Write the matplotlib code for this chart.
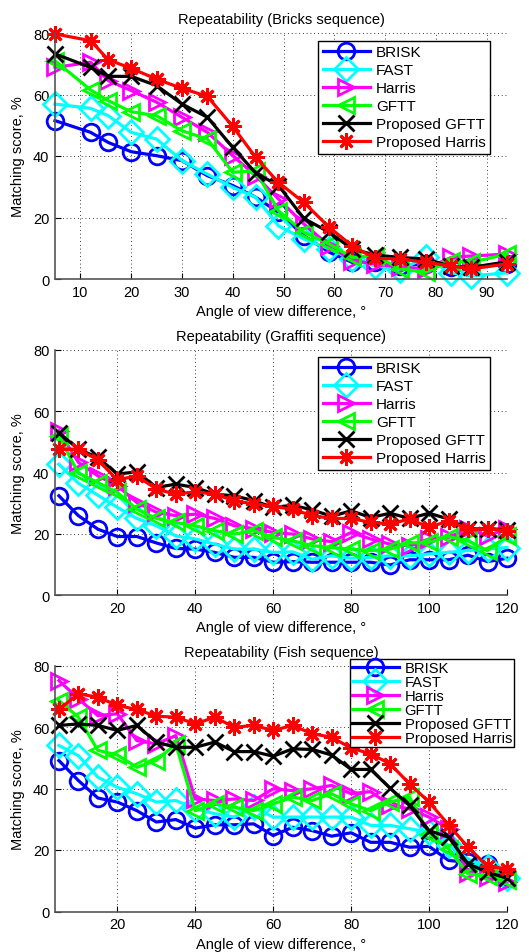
import matplotlib
matplotlib.use('Agg')
import matplotlib.pyplot as plt

plt.rcParams['font.family'] = ['Liberation Sans', 'DejaVu Sans']
plt.rcParams['font.size'] = 10.5

names = ['BRISK', 'FAST', 'Harris', 'GFTT', 'Proposed GFTT', 'Proposed Harris']
colors = ['#0000ff', '#00ffff', '#ff00ff', '#00ff00', '#000000', '#ff0000']
markers = ['o', 'D', '>', '<', 'x', (8, 2, 0)]

# Bricks sequence (irregular angles)
bricks_x = [5, 12, 15.5, 20, 25, 30, 35, 40, 44.5, 49, 54, 59, 63.5, 68, 73, 78, 83, 87, 94]
bricks = [
    [51.5, 47.7, 44.4, 41.4, 40.1, 38.5, 33.6, 30.4, 26.6, 21.7, 14.1, 8.7, 5.4, 5.4, 4.3, 4.9, 3.8, 3.8, 4.9],
    [56.9, 55.5, 53.1, 47.7, 45.5, 38.5, 34.1, 29.8, 26.6, 17.3, 13.0, 9.8, 6.5, 4.3, 3.0, 7.0, 2.0, 1.0, 2.0],
    [68.8, 70.5, 64.5, 61.3, 57.5, 52.6, 47.7, 40.1, 33.6, 26.0, 17.9, 10.8, 6.0, 4.9, 3.8, 3.3, 7.0, 7.5, 8.1],
    [71.0, 61.5, 58.0, 54.4, 53.1, 48.2, 45.5, 34.7, 35.2, 22.2, 15.2, 11.4, 7.0, 7.6, 3.3, 2.2, 6.0, 5.4, 8.1],
    [73.2, 68.8, 65.9, 65.9, 62.9, 56.9, 52.6, 42.8, 34.5, 30.4, 19.7, 15.2, 9.8, 7.8, 7.0, 6.5, 4.1, 3.8, 5.6],
    [79.7, 77.5, 71.3, 68.5, 65.0, 62.0, 59.4, 49.6, 39.6, 31.4, 24.9, 16.8, 10.8, 6.7, 6.5, 5.4, 4.3, 3.3, 4.9],
]

# Graffiti and Fish sequences (5 degree steps)
angles = list(range(5, 121, 5))
graffiti = [
    [32.4, 25.9, 21.5, 19.1, 19.1, 17.0, 15.2, 15.0, 13.9, 12.3, 12.3, 10.7, 10.9, 10.7, 10.7, 10.7, 10.7, 9.8, 11.5, 11.5, 11.5, 13.0, 10.9, 12.0],
    [42.7, 36.5, 32.6, 28.6, 25.0, 22.6, 19.3, 18.3, 16.6, 15.0, 15.0, 13.9, 14.1, 11.7, 12.8, 12.0, 12.3, 12.8, 12.8, 13.4, 13.9, 14.5, 15.0, 15.5],
    [53.6, 43.3, 38.9, 35.7, 30.2, 27.0, 25.9, 26.4, 25.0, 22.6, 21.7, 20.4, 19.9, 18.3, 17.4, 20.4, 18.3, 16.6, 16.1, 18.3, 18.8, 21.7, 19.3, 21.7],
    [52.0, 39.8, 36.7, 33.5, 28.0, 25.0, 23.7, 22.6, 21.0, 19.9, 21.0, 18.8, 17.7, 16.1, 15.5, 15.0, 14.5, 15.0, 17.0, 17.2, 19.1, 17.7, 14.5, 19.3],
    [53.0, 47.6, 44.9, 39.5, 40.2, 35.1, 36.2, 35.1, 32.9, 32.4, 30.8, 28.6, 29.3, 27.8, 25.7, 27.5, 25.3, 26.7, 25.0, 26.7, 24.8, 21.5, 21.7, 21.3],
    [47.6, 47.6, 44.1, 37.6, 38.9, 34.6, 32.9, 33.7, 32.9, 30.8, 29.7, 28.9, 28.0, 25.9, 25.0, 25.0, 23.7, 23.2, 24.8, 22.1, 24.2, 21.5, 21.7, 21.0],
]
fish = [
    [49.1, 42.6, 36.9, 35.6, 32.8, 29.1, 29.9, 27.1, 28.2, 28.2, 28.5, 24.7, 27.4, 26.3, 24.5, 25.6, 22.5, 22.5, 20.9, 21.2, 16.6, 16.0, 15.5, 10.8],
    [54.0, 50.7, 43.7, 40.4, 38.3, 35.6, 36.1, 33.4, 31.8, 30.7, 33.9, 30.7, 30.7, 30.7, 30.7, 30.7, 28.0, 28.0, 26.9, 25.8, 21.5, 17.1, 14.4, 10.8],
    [75.1, 69.2, 63.7, 64.3, 55.6, 54.5, 57.2, 36.6, 36.1, 36.6, 36.1, 39.9, 39.3, 39.9, 41.0, 38.3, 39.0, 34.5, 33.4, 30.7, 26.9, 12.5, 11.2, 9.5],
    [68.6, 63.2, 52.4, 50.9, 46.9, 49.1, 54.5, 32.8, 35.0, 33.9, 32.8, 35.0, 37.2, 36.1, 38.3, 35.0, 32.8, 35.6, 37.2, 25.3, 20.4, 12.2, 11.7, 10.1],
    [60.5, 61.0, 60.5, 58.9, 60.5, 55.1, 53.4, 53.4, 55.1, 52.0, 52.0, 50.5, 52.9, 52.7, 50.9, 46.2, 46.2, 40.1, 34.5, 26.3, 24.2, 15.5, 12.8, 10.8],
    [65.7, 70.8, 69.7, 67.0, 65.7, 63.5, 63.2, 61.0, 63.2, 59.9, 60.5, 58.9, 60.5, 57.8, 56.7, 53.1, 51.3, 48.0, 41.5, 35.6, 28.2, 20.9, 14.7, 13.9],
]

titles = ['Repeatability (Bricks sequence)', 'Repeatability (Graffiti sequence)', 'Repeatability (Fish sequence)']
W, H = 529, 953


def px_axes(fig, left, top, right, bottom):
    return fig.add_axes([left / W, 1 - bottom / H, (right - left) / W, (bottom - top) / H])


def draw_panel(ax, xs, series, xlim, xticks, title):
    for vals, name, c, m in zip(series, names, colors, markers):
        ax.plot(xs, vals, color=c, marker=m, markersize=12, markerfacecolor='none',
                markeredgewidth=2, linewidth=2.3, label=name, clip_on=False)
    ax.set_xlim(*xlim)
    ax.set_ylim(0, 80)
    ax.set_xticks(xticks)
    ax.set_yticks([0, 20, 40, 60, 80])
    ax.grid(True, color='black', linestyle=(0, (1, 3.5)), linewidth=0.6)
    ax.spines['top'].set_visible(False)
    ax.spines['right'].set_visible(False)
    for s in ['left', 'bottom']:
        ax.spines[s].set_color('#555555')
        ax.spines[s].set_linewidth(1.2)
    ax.tick_params(direction='in', length=4, width=0.8, pad=4, labelsize=10.5)
    ax.set_title(title, fontsize=10.5, pad=7)
    ax.set_xlabel('Angle of view difference, °', fontsize=10.5, labelpad=4)


def add_legend(ax, x, y, size, spacing, hlen, bpad):
    ax.legend(loc='upper left', bbox_to_anchor=(x / W, 1 - y / H), bbox_transform=fig.transFigure,
              fancybox=False, framealpha=1, edgecolor='black', borderaxespad=0, handlelength=hlen,
              handletextpad=0.4, labelspacing=spacing, borderpad=bpad, fontsize=size)


fig = plt.figure(figsize=(W / 100, H / 100), dpi=100)

ax1 = px_axes(fig, 55, 34, 507, 280)
draw_panel(ax1, bricks_x, bricks, (5, 94), list(range(10, 91, 10)), titles[0])
add_legend(ax1, 318, 41.5, 11, 0.26, 3.1, 0.3)

ax2 = px_axes(fig, 55, 351, 507, 596)
draw_panel(ax2, angles, graffiti, (4, 120), list(range(20, 121, 20)), titles[1])
add_legend(ax2, 318, 357.5, 11, 0.26, 3.1, 0.3)

ax3 = px_axes(fig, 55, 666.5, 507, 912.5)
draw_panel(ax3, angles, fish, (4, 120), list(range(20, 121, 20)), titles[2])
add_legend(ax3, 349.5, 659.5, 10.6, 0.0, 3.2, 0.15)

for ax in (ax1, ax2, ax3):
    ax.set_ylabel('Matching score, %', fontsize=10.5, labelpad=6)

fig.savefig('out.png', dpi=100)
